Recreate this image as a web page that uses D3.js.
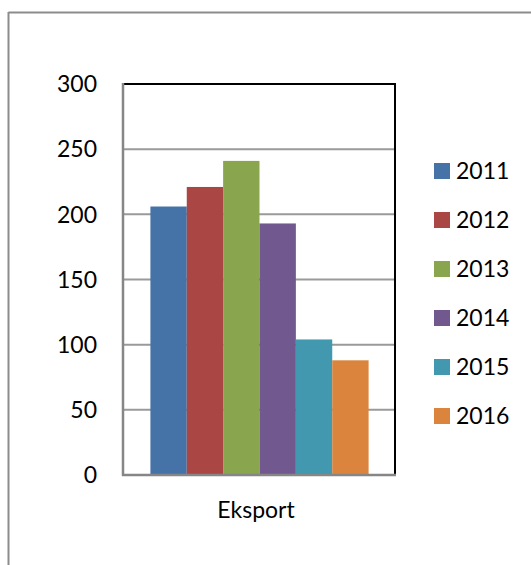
<!DOCTYPE html>
<html>
<head>
<meta charset="utf-8">
<script src="https://cdn.jsdelivr.net/npm/d3@7"></script>
<style>
  html, body { margin: 0; padding: 0; background: #fff; }
  svg { display: block; }
  text { font-family: Lato, "Open Sans", sans-serif; fill: #000; }
</style>
</head>
<body>
<div id="chart"></div>
<script>
const categories = ["Eksport"];
const seriesNames = ["2011", "2012", "2013", "2014", "2015", "2016"];
const seriesValues = [206, 221, 241, 193, 104, 88];
const seriesColors = ["#4572a7", "#aa4643", "#89a54e", "#71588f", "#4198af", "#db843d"];
const yTicks = [0, 50, 100, 150, 200, 250, 300];

const W = 531, H = 565;
const svg = d3.select("#chart").append("svg").attr("width", W).attr("height", H);

// outer chart border
svg.append("line").attr("x1", 8.5).attr("y1", 12.5).attr("x2", W).attr("y2", 12.5)
  .attr("stroke", "#8c8c8c").attr("stroke-width", 2);
svg.append("line").attr("x1", 8.5).attr("y1", 12).attr("x2", 8.5).attr("y2", H)
  .attr("stroke", "#8c8c8c").attr("stroke-width", 2);

const plot = { left: 123, right: 395, top: 84, bottom: 475 };

const y = d3.scaleLinear().domain([0, 300]).range([plot.bottom, plot.top]);
const x0 = d3.scaleBand().domain(categories).range([plot.left, plot.right]).paddingInner(0).paddingOuter(0);
// gap width ~150% of a bar on each category
const gapFrac = 54 / 273;
const x1 = d3.scaleBand().domain(seriesNames)
  .range([x0(categories[0]) + x0.bandwidth() * gapFrac / 2 + 0.5, x0(categories[0]) + x0.bandwidth() * (1 - gapFrac / 2) + 0.5])
  .padding(0);

// gridlines
svg.append("g").selectAll("line").data(yTicks.filter(t => t > 0 && t < 300)).join("line")
  .attr("x1", plot.left).attr("x2", plot.right)
  .attr("y1", d => y(d)).attr("y2", d => y(d))
  .attr("stroke", "#9a9a9a").attr("stroke-width", 2);

// bars
svg.append("g").selectAll("rect").data(seriesNames.map((n, i) => ({ n, v: seriesValues[i], c: seriesColors[i] })))
  .join("rect")
  .attr("x", d => x1(d.n))
  .attr("width", x1.bandwidth())
  .attr("y", d => y(d.v))
  .attr("height", d => y(0) - y(d.v))
  .attr("fill", d => d.c);

// plot frame: top & right black, left & bottom gray
svg.append("line").attr("x1", plot.left - 1).attr("x2", plot.right + 1).attr("y1", plot.top).attr("y2", plot.top)
  .attr("stroke", "#000").attr("stroke-width", 2);
svg.append("line").attr("x1", plot.right).attr("x2", plot.right).attr("y1", plot.top).attr("y2", plot.bottom + 1)
  .attr("stroke", "#000").attr("stroke-width", 2);
svg.append("line").attr("x1", plot.left).attr("x2", plot.left).attr("y1", plot.top - 1).attr("y2", plot.bottom + 1)
  .attr("stroke", "#868686").attr("stroke-width", 2.5);
svg.append("line").attr("x1", plot.left - 1).attr("x2", plot.right + 1).attr("y1", plot.bottom).attr("y2", plot.bottom)
  .attr("stroke", "#868686").attr("stroke-width", 2.5);

// y tick labels
svg.append("g").selectAll("text").data(yTicks).join("text")
  .attr("x", 97).attr("y", d => y(d))
  .attr("dy", "0.36em")
  .attr("text-anchor", "end")
  .attr("font-size", 23)
  .text(d => d);

// category label
svg.append("text").attr("x", x0(categories[0]) + x0.bandwidth() / 2 - 3).attr("y", 518)
  .attr("text-anchor", "middle").attr("font-size", 23).text(categories[0]);

// legend
const leg = svg.append("g").selectAll("g").data(seriesNames).join("g")
  .attr("transform", (d, i) => `translate(434, ${163 + i * 49})`);
leg.append("rect").attr("width", 16).attr("height", 16).attr("fill", (d, i) => seriesColors[i]);
leg.append("text").attr("x", 22).attr("y", 8).attr("dy", "0.36em").attr("font-size", 23).text(d => d);
</script>
</body>
</html>
